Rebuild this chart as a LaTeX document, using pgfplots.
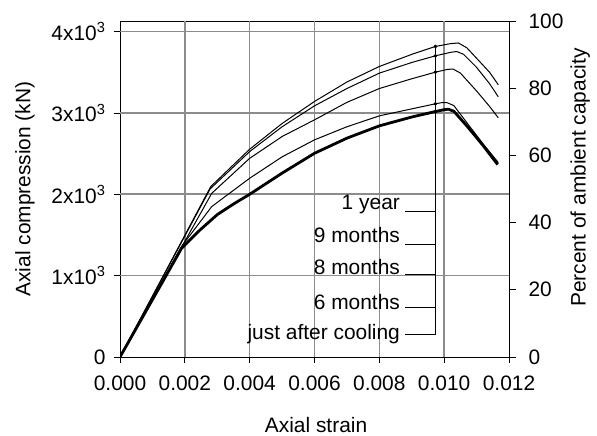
\documentclass[border=0pt]{standalone}
\usepackage{fontspec}
\setmainfont{Liberation Sans}
\usepackage{pgfplots}
\pgfplotsset{compat=1.18}

\begin{document}
\begin{tikzpicture}[font=\fontsize{21}{25}\selectfont]
\path[use as bounding box] (0,0) rectangle (597bp,436bp);
\begin{axis}[
  at={(120bp,79bp)}, anchor=south west,
  width=389bp, height=336bp, scale only axis,
  xmin=0, xmax=0.012, ymin=0, ymax=4130,
  xtick={0,0.002,0.004,0.006,0.008,0.010,0.012},
  xticklabels={0.000,0.002,0.004,0.006,0.008,0.010,0.012},
  ytick={0,1000,2000,3000,4000},
  yticklabels={0,1x10\textsuperscript{3},2x10\textsuperscript{3},3x10\textsuperscript{3},4x10\textsuperscript{3}},
  scaled x ticks=false, scaled y ticks=false,
  tick align=outside, xtick pos=bottom, ytick pos=left,
  major tick length=6bp,
  axis line style={black, line width=0.8bp},
  tick style={black, line width=0.8bp},
  xticklabel style={yshift=-9bp},
  yticklabel style={xshift=-5bp},
  xlabel={Axial strain}, ylabel={Axial compression (kN)},
  xlabel style={at={(axis description cs:0.504,-0.202)}, anchor=center},
  ylabel style={at={(axis description cs:-0.244,0.5)}, anchor=center},
]
% grid lines
\addplot[draw=black!45, line width=1.4bp, mark=none, forget plot] coordinates {(0.002,0) (0.002,4130)};
\addplot[draw=black!45, line width=1.4bp, mark=none, forget plot] coordinates {(0.004,0) (0.004,4130)};
\addplot[draw=black!45, line width=1.4bp, mark=none, forget plot] coordinates {(0.006,0) (0.006,4130)};
\addplot[draw=black!45, line width=1.4bp, mark=none, forget plot] coordinates {(0.008,0) (0.008,4130)};
\addplot[draw=black!45, line width=1.4bp, mark=none, forget plot] coordinates {(0.010,0) (0.010,4130)};
\addplot[draw=black!45, line width=1.6bp, mark=none, forget plot] coordinates {(0,1000) (0.012,1000)};
\addplot[draw=black!45, line width=1.6bp, mark=none, forget plot] coordinates {(0,2000) (0.012,2000)};
\addplot[draw=black!45, line width=1.6bp, mark=none, forget plot] coordinates {(0,3000) (0.012,3000)};
\addplot[draw=black!45, line width=1.6bp, mark=none, forget plot] coordinates {(0,4000) (0.012,4000)};
% 1 year
\addplot[black, line width=1bp, mark=none, line join=round] coordinates {
(0,0) (0.0028,2095) (0.004,2554) (0.005,2870) (0.006,3141) (0.007,3380) (0.008,3571)
(0.009,3720) (0.00973,3817) (0.0102,3852) (0.01044,3860) (0.0107,3800) (0.011,3672)
(0.0114,3500) (0.01167,3346)};
% 9 months
\addplot[black, line width=1bp, mark=none, line join=round] coordinates {
(0,0) (0.00278,2066) (0.004,2525) (0.005,2830) (0.006,3087) (0.007,3300) (0.008,3489)
(0.009,3620) (0.00973,3702) (0.0102,3745) (0.01039,3755) (0.0106,3720) (0.011,3560)
(0.0114,3360) (0.01167,3198)};
% 8 months
\addplot[black, line width=1bp, mark=none, line join=round] coordinates {
(0,0) (0.00283,2012) (0.004,2442) (0.005,2710) (0.006,2915) (0.007,3130) (0.008,3300)
(0.009,3420) (0.00973,3501) (0.0101,3535) (0.01027,3540) (0.0105,3490) (0.011,3270)
(0.0114,3080) (0.01167,2940)};
% 6 months
\addplot[black, line width=1bp, mark=none, line join=round] coordinates {
(0,0) (0.0019,1360) (0.00283,1849) (0.004,2197) (0.005,2460) (0.006,2669) (0.007,2830)
(0.008,2964) (0.009,3050) (0.00973,3112) (0.0099,3125) (0.01008,3128) (0.0103,3090)
(0.0107,2880) (0.0112,2620) (0.01167,2390)};
% just after cooling
\addplot[black, line width=2.8bp, mark=none, line join=round] coordinates {
(0,0) (0.0019,1337) (0.00247,1562) (0.003,1750) (0.0035,1880) (0.004,2000) (0.005,2260) (0.006,2504)
(0.007,2690) (0.008,2841) (0.009,2950) (0.00973,3017) (0.0100,3040) (0.01013,3046)
(0.0103,3020) (0.0107,2840) (0.0112,2600) (0.01165,2365)};
% leaders
\addplot[black, line width=0.9bp, mark=none] coordinates {(0.0088,1784) (0.00973,1784) (0.00973,3817)};
\addplot[black, line width=0.9bp, mark=none] coordinates {(0.0088,1378) (0.00973,1378) (0.00973,3702)};
\addplot[black, line width=0.9bp, mark=none] coordinates {(0.0088,1009) (0.00973,1009) (0.00973,3501)};
\addplot[black, line width=0.9bp, mark=none] coordinates {(0.0088,603) (0.00973,603) (0.00973,3112)};
\addplot[black, line width=0.9bp, mark=none] coordinates {(0.0088,283) (0.00973,283) (0.00973,3017)};
% dots
\addplot[only marks, mark=*, mark size=1.6bp, black] coordinates {
(0.00973,3817) (0.00973,3702) (0.00973,3501) (0.00973,3112) (0.00973,3017)};
\node[anchor=east, inner sep=0pt] at (axis cs:0.00864,1870) {1 year};
\node[anchor=east, inner sep=0pt] at (axis cs:0.00864,1500) {9 months};
\node[anchor=east, inner sep=0pt] at (axis cs:0.00864,1107) {8 months};
\node[anchor=east, inner sep=0pt] at (axis cs:0.00864,677) {6 months};
\node[anchor=east, inner sep=0pt] at (axis cs:0.00864,283) {just after cooling};
\end{axis}
\begin{axis}[
  at={(120bp,79bp)}, anchor=south west,
  width=389bp, height=336bp, scale only axis,
  xmin=0, xmax=0.012, ymin=0, ymax=100,
  axis y line*=right, axis x line=none,
  ytick={0,20,40,60,80,100}, yticklabels={0,20,40,60,80,100},
  tick align=outside, major tick length=7bp,
  axis line style={black, line width=0.8bp},
  tick style={black, line width=0.8bp},
  yticklabel style={xshift=9bp},
  ylabel={Percent of ambient capacity},
  ylabel style={at={(axis description cs:1.183,0.534)}, anchor=center},
]
\end{axis}
\end{tikzpicture}
\end{document}
